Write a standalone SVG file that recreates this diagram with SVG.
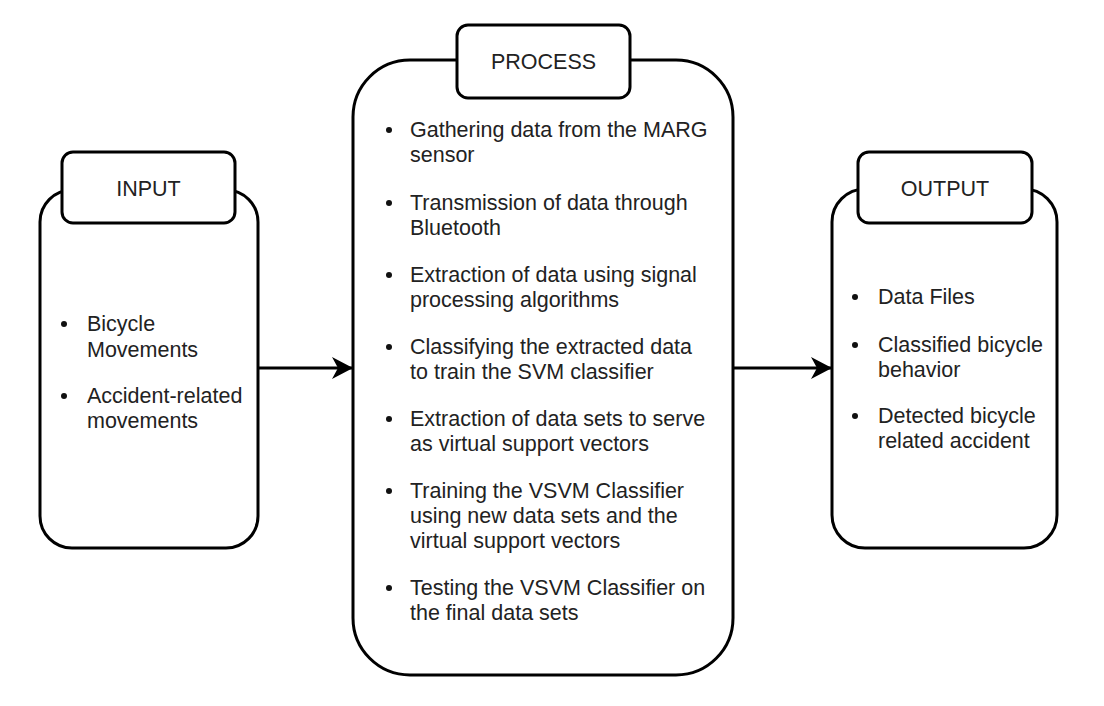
<svg xmlns="http://www.w3.org/2000/svg" width="1104" height="706" viewBox="0 0 1104 706">
<defs>
<style>
.box{fill:#fff;stroke:#000;stroke-width:3}
.t{font-family:"Liberation Sans",Arial,sans-serif;font-size:21.5px;fill:#222}
.title{font-family:"Liberation Sans",Arial,sans-serif;font-size:21.5px;fill:#222;text-anchor:middle}
.dot{fill:#111}
.edge{stroke:#000;stroke-width:3;fill:none}
</style>
<marker id="arr" markerUnits="userSpaceOnUse" markerWidth="24" markerHeight="24" refX="21" refY="11" orient="auto" viewBox="0 0 24 24">
<path d="M0,0 L21,11 L0,22 L6,11 Z" fill="#000"/>
</marker>
</defs>
<rect width="1104" height="706" fill="#fff"/>
<g id="connectors">
<line class="edge" x1="258" y1="368" x2="353" y2="368" marker-end="url(#arr)"/>
<line class="edge" x1="733" y1="368" x2="832" y2="368" marker-end="url(#arr)"/>
</g>
<g id="input">
<rect class="box" x="40" y="190" width="218" height="358" rx="32"/>
<rect class="box" x="62" y="152" width="173" height="71" rx="11"/>
<text class="title" x="148.5" y="196">INPUT</text>
<circle class="dot" cx="64" cy="324" r="3"/>
<text class="t" x="87" y="331">Bicycle</text>
<text class="t" x="87" y="357">Movements</text>
<circle class="dot" cx="64" cy="396" r="3"/>
<text class="t" x="87" y="403">Accident-related</text>
<text class="t" x="87" y="428">movements</text>
</g>
<g id="process">
<rect class="box" x="353" y="60" width="380" height="615" rx="57"/>
<rect class="box" x="457" y="25" width="173" height="73" rx="11"/>
<text class="title" x="543.5" y="69">PROCESS</text>
<g>
<circle class="dot" cx="389" cy="130" r="3"/>
<text class="t" x="410" y="137">Gathering data from the MARG</text>
<text class="t" x="410" y="162">sensor</text>
<circle class="dot" cx="389" cy="203" r="3"/>
<text class="t" x="410" y="210">Transmission of data through</text>
<text class="t" x="410" y="235">Bluetooth</text>
<circle class="dot" cx="389" cy="275" r="3"/>
<text class="t" x="410" y="282">Extraction of data using signal</text>
<text class="t" x="410" y="307">processing algorithms</text>
<circle class="dot" cx="389" cy="347" r="3"/>
<text class="t" x="410" y="354">Classifying the extracted data</text>
<text class="t" x="410" y="379">to train the SVM classifier</text>
<circle class="dot" cx="389" cy="419" r="3"/>
<text class="t" x="410" y="426">Extraction of data sets to serve</text>
<text class="t" x="410" y="451">as virtual support vectors</text>
<circle class="dot" cx="389" cy="491" r="3"/>
<text class="t" x="410" y="498">Training the VSVM Classifier</text>
<text class="t" x="410" y="523">using new data sets and the</text>
<text class="t" x="410" y="548">virtual support vectors</text>
<circle class="dot" cx="389" cy="588" r="3"/>
<text class="t" x="410" y="595">Testing the VSVM Classifier on</text>
<text class="t" x="410" y="620">the final data sets</text>
</g>
</g>
<g id="output">
<rect class="box" x="832" y="189" width="225" height="359" rx="33"/>
<rect class="box" x="858" y="152" width="174" height="71" rx="11"/>
<text class="title" x="945" y="196">OUTPUT</text>
<circle class="dot" cx="855" cy="297" r="3"/>
<text class="t" x="878" y="304">Data Files</text>
<circle class="dot" cx="855" cy="345" r="3"/>
<text class="t" x="878" y="352">Classified bicycle</text>
<text class="t" x="878" y="377">behavior</text>
<circle class="dot" cx="855" cy="416" r="3"/>
<text class="t" x="878" y="423">Detected bicycle</text>
<text class="t" x="878" y="448">related accident</text>
</g>
</svg>
